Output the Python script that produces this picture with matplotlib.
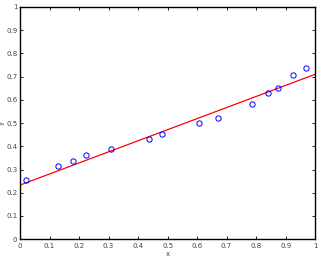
import matplotlib
matplotlib.use("Agg")
import matplotlib.pyplot as plt
import numpy as np

x_pts = [0.019, 0.127, 0.181, 0.224, 0.308, 0.437, 0.481, 0.608, 0.670, 0.787, 0.840, 0.875, 0.925, 0.968]
y_pts = [0.254, 0.313, 0.336, 0.361, 0.387, 0.431, 0.453, 0.501, 0.520, 0.580, 0.631, 0.652, 0.708, 0.736]
fit_intercept = 0.233
fit_slope = 0.477
ticks = [0, 0.1, 0.2, 0.3, 0.4, 0.5, 0.6, 0.7, 0.8, 0.9, 1]
tick_labels = ["0", "0.1", "0.2", "0.3", "0.4", "0.5", "0.6", "0.7", "0.8", "0.9", "1"]

fig = plt.figure(figsize=(3.18, 2.58), dpi=100)
ax = fig.add_axes([0.063, 0.073, 0.928, 0.900])
xl = np.array([0, 1])
ax.plot(xl, fit_intercept + fit_slope * xl, color="red", lw=0.9)
ax.plot(x_pts, y_pts, "o", mfc="none", mec="blue", ms=3.8, mew=0.7)
ax.set_xlim(0, 1)
ax.set_ylim(0, 1)
ax.set_xticks(ticks)
ax.set_xticklabels(tick_labels)
ax.set_yticks(ticks)
ax.set_yticklabels(tick_labels)
ax.tick_params(direction="in", top=True, right=True, labelsize=5, length=2.5, width=0.6, labelcolor="#444444")
ax.tick_params(axis="x", pad=3)
ax.tick_params(axis="y", pad=2)
for s in ax.spines.values():
    s.set_linewidth(1.0)
ax.set_xlabel("x", fontsize=5, labelpad=1.5, color="#444444")
ax.set_ylabel("y", fontsize=5, labelpad=1, color="#444444")
fig.savefig("out.png", dpi=100)
